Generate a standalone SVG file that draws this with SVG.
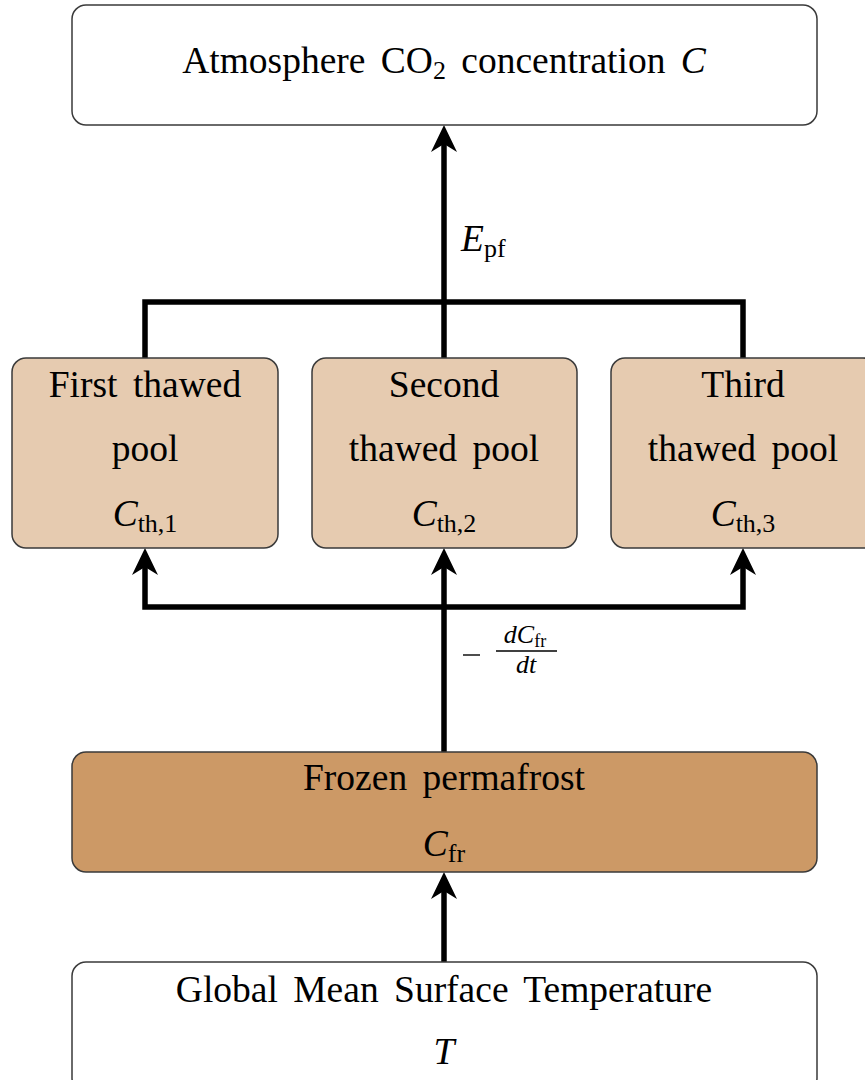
<svg xmlns="http://www.w3.org/2000/svg" width="865" height="1080" viewBox="0 0 865 1080">
<style>
.box{stroke:#3a3a3a;stroke-width:1.5}
.white{fill:#ffffff}
.thawed{fill:#E6CBB0}
.frozen{fill:#CC9966}
text{font-family:"Liberation Serif","Times New Roman",serif;fill:#000;text-anchor:middle}
.t{font-size:37.5px;word-spacing:6px}
.m{font-size:37.5px;font-style:italic}
.sub{font-size:26px;font-style:normal}
.start{text-anchor:start}
.conn{fill:none;stroke:#000;stroke-width:5.5;stroke-linejoin:miter;stroke-linecap:butt}
</style>
<defs>
<marker id="arrow" viewBox="-30 -15 32 30" markerWidth="32" markerHeight="30" refX="-10" refY="0" markerUnits="userSpaceOnUse" orient="auto">
<path d="M0,0 L-27,-13 L-19,0 L-27,13 Z" fill="#000"/>
</marker>
</defs>

<g id="connectors">
<path class="conn" d="M444,302 L444,135" marker-end="url(#arrow)"/>
<path class="conn" d="M145,358 L145,302 L743,302 L743,358"/>
<path class="conn" d="M444,358 L444,302"/>
<path class="conn" d="M444,752 L444,558" marker-end="url(#arrow)"/>
<path class="conn" d="M444,607 L145,607 L145,558" marker-end="url(#arrow)"/>
<path class="conn" d="M444,607 L743,607 L743,558" marker-end="url(#arrow)"/>
<path class="conn" d="M444,962 L444,882" marker-end="url(#arrow)"/>
<text x="461" y="251" class="m start">E<tspan class="sub" dy="6">pf</tspan></text>
<g id="rate-label">
<line x1="463" y1="655" x2="480" y2="655" stroke="#000" stroke-width="1.4"/>
<text x="525" y="643" style="font-size:26px;font-style:italic">dC<tspan style="font-size:18px;font-style:normal" dy="4">fr</tspan></text>
<line x1="496" y1="651" x2="557" y2="651" stroke="#000" stroke-width="1.3"/>
<text x="526" y="673" style="font-size:26px;font-style:italic">dt</text>
</g>
</g>

<g id="atmosphere">
<rect class="box white" x="72" y="5" width="745" height="120" rx="14"/>
<text x="444" y="73" class="t">Atmosphere CO<tspan class="sub" dy="6">2</tspan><tspan dy="-6"> concentration </tspan><tspan font-style="italic">C</tspan></text>
</g>

<g id="pool1">
<rect class="box thawed" x="12" y="358" width="266" height="190" rx="14"/>
<text x="145" y="397" class="t">First thawed</text>
<text x="145" y="461" class="t">pool</text>
<text x="145" y="526" class="m">C<tspan class="sub" dy="6">th,1</tspan></text>
</g>

<g id="pool2">
<rect class="box thawed" x="312" y="358" width="265" height="190" rx="14"/>
<text x="444" y="397" class="t">Second</text>
<text x="444" y="461" class="t">thawed pool</text>
<text x="444" y="526" class="m">C<tspan class="sub" dy="6">th,2</tspan></text>
</g>

<g id="pool3">
<rect class="box thawed" x="611" y="358" width="266" height="190" rx="14"/>
<text x="743" y="397" class="t">Third</text>
<text x="743" y="461" class="t">thawed pool</text>
<text x="743" y="526" class="m">C<tspan class="sub" dy="6">th,3</tspan></text>
</g>

<g id="frozen">
<rect class="box frozen" x="72" y="752" width="745" height="120" rx="14"/>
<text x="444" y="790" class="t">Frozen permafrost</text>
<text x="444" y="856" class="m">C<tspan class="sub" dy="6">fr</tspan></text>
</g>

<g id="temperature">
<rect class="box white" x="72" y="962" width="745" height="130" rx="14"/>
<text x="444" y="1002" class="t">Global Mean Surface Temperature</text>
<text x="444" y="1064" class="m">T</text>
</g>
</svg>
